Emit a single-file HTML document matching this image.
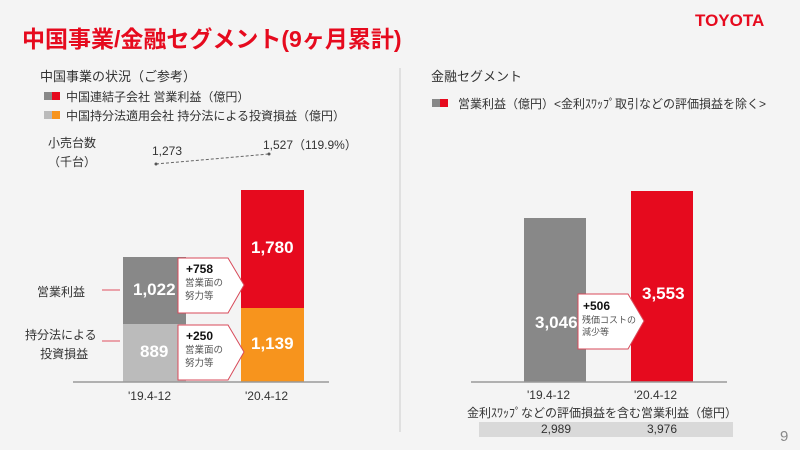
<!DOCTYPE html>
<html><head><meta charset="utf-8"><style>
*{margin:0;padding:0}
body{width:800px;height:450px;background:#f4f4f4;position:relative;overflow:hidden;font-family:"Liberation Sans","Noto Sans CJK JP",sans-serif;color:#333}
.a{position:absolute;white-space:nowrap}
</style></head><body>
<svg width="800" height="450" style="position:absolute;left:0;top:0" font-family="Liberation Sans, Noto Sans CJK JP, sans-serif">
<line x1="400" y1="68" x2="400" y2="432" stroke="#ccc" stroke-width="1"/>
<!-- left legend squares -->
<rect x="44" y="92" width="8" height="8" fill="#888"/><rect x="52" y="92" width="8" height="8" fill="#e60a1e"/>
<rect x="44" y="111" width="8" height="8" fill="#bbb"/><rect x="52" y="111" width="8" height="8" fill="#f7941d"/>
<!-- dashed line -->
<line x1="156" y1="164" x2="269" y2="154" stroke="#666" stroke-dasharray="3,2"/>
<circle cx="156" cy="164" r="1.5" fill="#555"/><circle cx="269" cy="154" r="1.5" fill="#555"/>
<!-- left bars -->
<rect x="123" y="257" width="63" height="67" fill="#888"/>
<rect x="123" y="324" width="63" height="58" fill="#bbb"/>
<rect x="241" y="190" width="63" height="118" fill="#e60a1e"/>
<rect x="241" y="308" width="63" height="74" fill="#f7941d"/>
<line x1="73" y1="382" x2="329" y2="382" stroke="#999" stroke-width="1.5"/>
<line x1="102" y1="290" x2="120" y2="290" stroke="#e05060"/>
<line x1="102" y1="341" x2="120" y2="341" stroke="#e05060"/>
<polygon points="178,258 228,258 244,285 228,313 178,313" fill="#fff" stroke="#d84a5a"/>
<polygon points="178,325 228,325 244,352 228,380 178,380" fill="#fff" stroke="#d84a5a"/>
<!-- right -->
<rect x="432" y="99" width="8" height="8" fill="#888"/><rect x="440" y="99" width="8" height="8" fill="#e60a1e"/>
<rect x="524" y="218" width="62" height="164" fill="#888"/>
<rect x="631" y="191" width="62" height="191" fill="#e60a1e"/>
<line x1="471" y1="382" x2="727" y2="382" stroke="#999" stroke-width="1.5"/>
<polygon points="578,294 628,294 644,321 628,349 578,349" fill="#fff" stroke="#d84a5a"/>
<rect x="479" y="422" width="254" height="15" fill="#d9d9d9"/>
</svg>
<div class="a" style="left:22px;top:20px;font-size:23px;font-weight:bold;color:#e60a1e">中国事業/金融セグメント(9ヶ月累計)</div>
<div class="a" style="left:695px;top:11px;font-size:17px;font-weight:bold;color:#e60a1e">TOYOTA</div>
<div class="a" style="left:40px;top:66px;font-size:13px">中国事業の状況（ご参考）</div>
<div class="a" style="left:66px;top:88px;font-size:12px">中国連結子会社 営業利益（億円）</div>
<div class="a" style="left:66px;top:107px;font-size:12px">中国持分法適用会社 持分法による投資損益（億円）</div>
<div class="a" style="left:48px;top:134px;font-size:12px;line-height:19px">小売台数<br>（千台）</div>
<div class="a" style="left:152px;top:144px;font-size:12px">1,273</div>
<div class="a" style="left:263px;top:136px;font-size:12px">1,527（119.9%）</div>
<div class="a" style="left:37px;top:283px;font-size:12px">営業利益</div>
<div class="a" style="left:25px;top:326px;font-size:12px;line-height:19px;text-align:center">持分法による<br>&nbsp;&nbsp;投資損益</div>
<div class="a" style="left:133px;top:280px;font-size:17px;font-weight:bold;color:#fff">1,022</div>
<div class="a" style="left:140px;top:342px;font-size:17px;font-weight:bold;color:#fff">889</div>
<div class="a" style="left:251px;top:238px;font-size:17px;font-weight:bold;color:#fff">1,780</div>
<div class="a" style="left:251px;top:334px;font-size:17px;font-weight:bold;color:#fff">1,139</div>
<div class="a" style="left:186px;top:262px;font-size:12px;font-weight:bold;color:#111">+758</div>
<div class="a" style="left:185px;top:277px;font-size:9.5px;line-height:13px;color:#555">営業面の<br>努力等</div>
<div class="a" style="left:186px;top:329px;font-size:12px;font-weight:bold;color:#111">+250</div>
<div class="a" style="left:185px;top:344px;font-size:9.5px;line-height:13px;color:#555">営業面の<br>努力等</div>
<div class="a" style="left:128px;top:389px;font-size:12px">'19.4-12</div>
<div class="a" style="left:245px;top:389px;font-size:12px">'20.4-12</div>
<div class="a" style="left:431px;top:66px;font-size:13px">金融セグメント</div>
<div class="a" style="left:458px;top:95px;font-size:12px">営業利益（億円）&lt;金利ｽﾜｯﾌﾟ取引などの評価損益を除く&gt;</div>
<div class="a" style="left:535px;top:313px;font-size:17px;font-weight:bold;color:#fff">3,046</div>
<div class="a" style="left:642px;top:284px;font-size:17px;font-weight:bold;color:#fff">3,553</div>
<div class="a" style="left:583px;top:299px;font-size:12px;font-weight:bold;color:#111">+506</div>
<div class="a" style="left:582px;top:314px;font-size:9px;line-height:12px;color:#555">残価コストの<br>減少等</div>
<div class="a" style="left:527px;top:388px;font-size:12px">'19.4-12</div>
<div class="a" style="left:634px;top:388px;font-size:12px">'20.4-12</div>
<div class="a" style="left:467px;top:404px;font-size:12px">金利ｽﾜｯﾌﾟなどの評価損益を含む営業利益（億円）</div>
<div class="a" style="left:541px;top:422px;font-size:12px">2,989</div>
<div class="a" style="left:647px;top:422px;font-size:12px">3,976</div>
<div class="a" style="left:780px;top:428px;font-size:15px;color:#888">9</div>
</body></html>
